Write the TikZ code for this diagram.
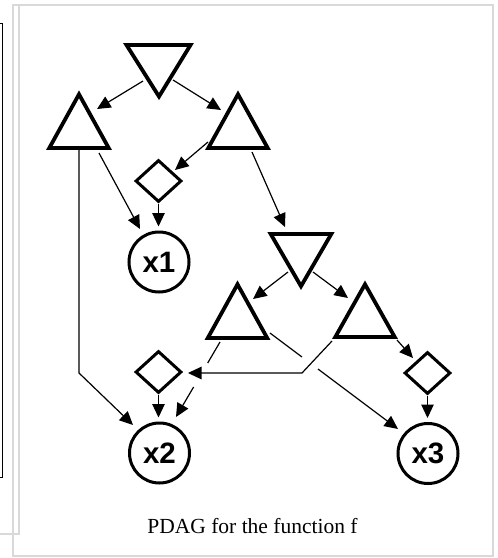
\documentclass[tikz,border=0pt]{standalone}
\usepackage{fontspec}
\setmainfont{Liberation Serif}
\newfontfamily\lsans{Liberation Sans}
\usetikzlibrary{shapes.geometric,arrows.meta}
\begin{document}
\begin{tikzpicture}[x=1pt,y=-1pt,
  tri/.style={draw, line width=3.8pt, line join=miter, miter limit=10},
  dia/.style={diamond, draw, line width=3pt, minimum width=46pt, minimum height=42pt, inner sep=0pt},
  var/.style={circle, draw, line width=3pt, minimum size=60pt, inner sep=0pt, font=\lsans\bfseries\fontsize{29.5}{29.5}\selectfont},
  conn/.style={line width=1.2pt, -{Triangle[length=13.5pt,width=12.5pt]}},
  seg/.style={line width=1.2pt},
  framegray/.style={draw=gray!30, line width=2pt},
  captext/.style={font=\fontsize{21.5}{21.5}\selectfont, anchor=base}
]
\useasboundingbox (0,0) rectangle (498,558);
% frame
\draw[framegray] (13,5) rectangle (492.5,556);
\draw[framegray] (0,534) -- (18.5,534) -- (18.5,5);
\draw[black, line width=1pt] (0,23) -- (2.5,23) -- (2.5,477.5) -- (0,477.5);

% triangles
\draw[tri] (126.5,45) coordinate (t0a) -- (190.5,45) coordinate (t0b) -- (159,96.5) coordinate (t0c) -- cycle;
\draw[tri] (79,94.3) coordinate (t1a) -- (108.7,148) coordinate (t1b) -- (49.3,148) coordinate (t1c) -- cycle;
\draw[tri] (238,94.3) coordinate (t2a) -- (267.7,148) coordinate (t2b) -- (208.3,148) coordinate (t2c) -- cycle;
\draw[tri] (270.7,234) coordinate (t3a) -- (331.3,234) coordinate (t3b) -- (301,286.2) coordinate (t3c) -- cycle;
\draw[tri] (237.5,284.3) coordinate (t4a) -- (267.2,338) coordinate (t4b) -- (207.8,338) coordinate (t4c) -- cycle;
\draw[tri] (365,284.3) coordinate (t5a) -- (394.7,337) coordinate (t5b) -- (335.3,337) coordinate (t5c) -- cycle;

% diamonds and variables
\node[dia] (d1) at (158.5,181) {};
\node[dia] (d2) at (158.5,372) {};
\node[dia] (d3) at (427.5,373) {};
\node[var] (x1) at (159,262) {x1};
\node[var] (x2) at (159.5,453) {x2};
\node[var] (x3) at (428,453.5) {x3};

% connector end points
\coordinate (p1s) at (143,81);   \coordinate (p1e) at (97,109);
\coordinate (p2s) at (173,80);   \coordinate (p2e) at (221,110);
\coordinate (p3s) at (99,153);   \coordinate (p3e) at (140,229);
\coordinate (p4s) at (79,150);   \coordinate (p4m) at (79,373);  \coordinate (p4e) at (133,425);
\coordinate (p5s) at (208,142);  \coordinate (p5e) at (175,170);
\coordinate (p7s) at (252,152);  \coordinate (p7e) at (285,227);
\coordinate (p8s) at (288,272);  \coordinate (p8e) at (253,299);
\coordinate (p9s) at (313,272);  \coordinate (p9e) at (348,298);
\coordinate (p10s) at (270,333); \coordinate (p10g1) at (302,357);
\coordinate (p10g2) at (318,369); \coordinate (p10e) at (398,429);
\coordinate (p11s) at (332,341); \coordinate (p11m) at (302,373); \coordinate (p11e) at (188,373);
\coordinate (p12s) at (220,342); \coordinate (p12g1) at (207.7,363);
\coordinate (p12g2) at (193.6,387); \coordinate (p12e) at (176,417);
\coordinate (p14s) at (397,340); \coordinate (p14e) at (413,358);

% connectors
\draw[conn] (p1s) -- (p1e);
\draw[conn] (p2s) -- (p2e);
\draw[conn] (p3s) -- (p3e);
\draw[conn] (p4s) -- (p4m) -- (p4e);
\draw[conn] (p5s) -- (p5e);
\draw[conn, shorten >=4pt] (d1.south) -- (d1.south |- x1.north);
\draw[conn] (p7s) -- (p7e);
\draw[conn] (p8s) -- (p8e);
\draw[conn] (p9s) -- (p9e);
\draw[seg] (p10s) -- (p10g1);
\draw[conn] (p10g2) -- (p10e);
\draw[conn] (p11s) -- (p11m) -- (p11e);
\draw[seg] (p12s) -- (p12g1);
\draw[conn] (p12g2) -- (p12e);
\draw[conn, shorten >=4pt] (d2.south) -- (d2.south |- x2.north);
\draw[conn] (p14s) -- (p14e);
\draw[conn, shorten >=4pt] (d3.south) -- (d3.south |- x3.north);

% caption
\node[captext] (cap) at (252.5,533) {PDAG for the function f};
\end{tikzpicture}
\end{document}
